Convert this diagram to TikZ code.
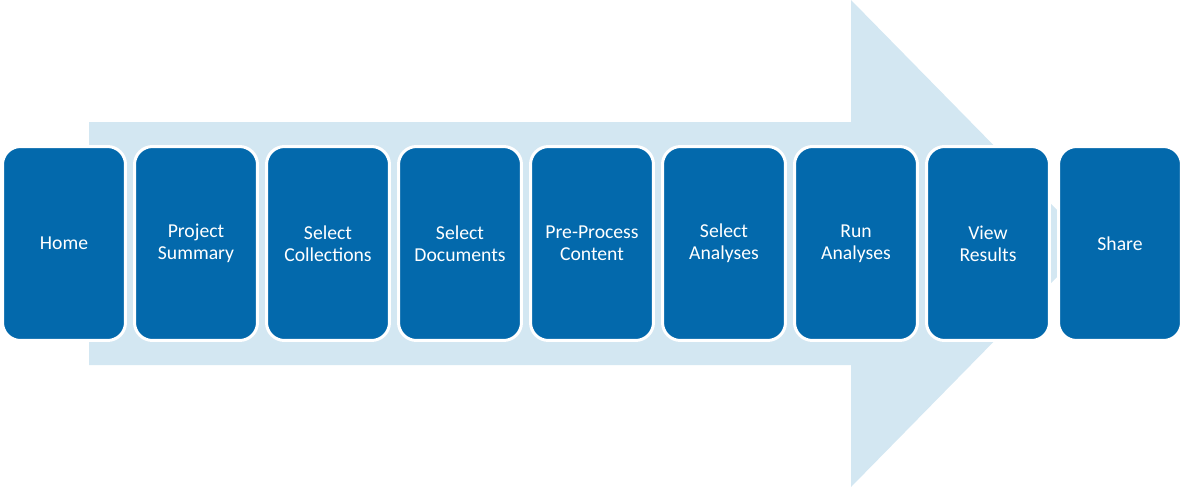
\documentclass[tikz,border=0pt]{standalone}
\usepackage{fontspec}
\setmainfont{Carlito}
\usepackage{xcolor}
\usetikzlibrary{positioning}
\definecolor{stepblue}{RGB}{3,105,172}
\definecolor{arrowblue}{RGB}{211,231,242}

\begin{document}
\begin{tikzpicture}[
    x=0.02cm, y=-0.02cm,
    stepbox/.style={draw=white, line width=0.06cm, fill=stepblue, rounded corners=0.36cm,
        minimum width=2.46cm, minimum height=3.88cm, inner sep=0pt, outer sep=0pt,
        align=center, text=white, font=\fontsize{11.2}{12.6}\selectfont}
]
    \useasboundingbox (0,0) rectangle (1184,487);
    \fill[arrowblue] (89,122) -- (851,122) -- (851,0) -- (1090,243.5) -- (851,487) -- (851,365) -- (89,365) -- cycle;
    \node[stepbox] at (64,243.5) (home) {Home};
    \node[stepbox] at (196,243.5) (summary) {Project\\Summary};
    \node[stepbox] at (328,243.5) (collections) {Select\\Collections};
    \node[stepbox] at (460,243.5) (documents) {Select\\Documents};
    \node[stepbox] at (592,243.5) (preprocess) {Pre-Process\\Content};
    \node[stepbox] at (724,243.5) (analyses) {Select\\Analyses};
    \node[stepbox] at (856,243.5) (run) {Run\\Analyses};
    \node[stepbox] at (988,243.5) (results) {View\\Results};
    \node[stepbox] at (1120,243.5) (share) {Share};
\end{tikzpicture}
\end{document}
